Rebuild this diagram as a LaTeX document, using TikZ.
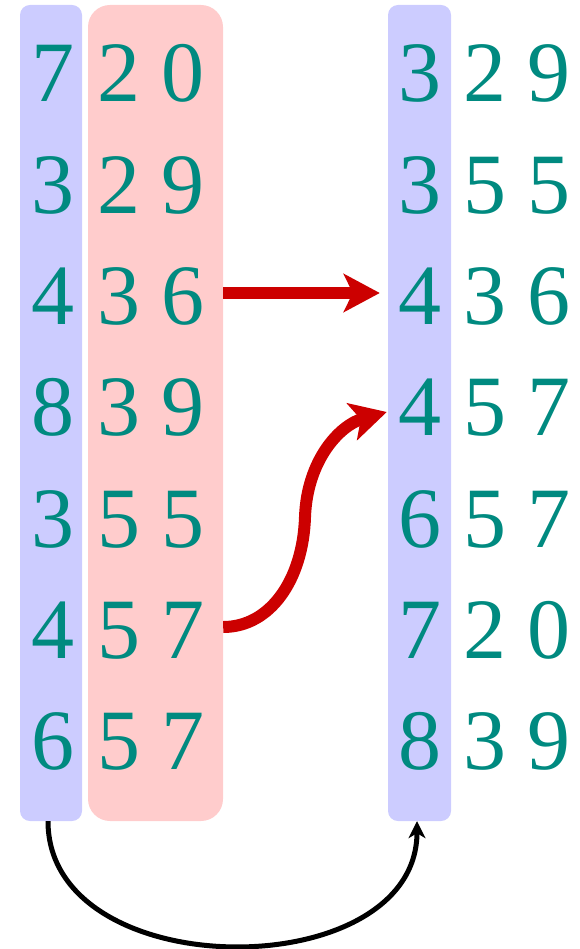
\documentclass[tikz,border=0pt]{standalone}
\usepackage{fontspec}
\newfontfamily\digitfont{Liberation Serif}
\usetikzlibrary{arrows.meta}
\definecolor{digitteal}{RGB}{0,138,128}
\definecolor{colblue}{RGB}{204,204,255}
\definecolor{colpink}{RGB}{255,204,204}
\definecolor{arrred}{RGB}{204,0,0}
\begin{document}
\begin{tikzpicture}[x=1pt,y=-1pt,
  digit/.style={anchor=base,inner sep=0pt,text=digitteal,font=\digitfont\fontsize{86}{86}\selectfont},
  bluecol/.style={fill=colblue,draw=none,rounded corners=10pt,inner sep=0pt,minimum width=62pt,minimum height=816pt},
  pinkcol/.style={fill=colpink,draw=none,rounded corners=22pt,inner sep=0pt,minimum width=135pt,minimum height=816pt},
  redarrow/.style={draw=arrred,line width=12pt,-{Stealth[length=36pt,width=38pt,inset=9pt]}},
  blackarrow/.style={draw=black,line width=5pt,-{Stealth[length=17pt,width=17pt,inset=5pt]}}]
\useasboundingbox (0,0) rectangle (580,949);
\node[bluecol] (lcol) at (51,413) {};
\node[pinkcol] (pink) at (155.5,413) {};
\node[bluecol,minimum width=63pt] (rcol) at (419.5,413) {};
% left digits
\foreach \r/\a/\b/\c in {0/7/2/0,1/3/2/9,2/4/3/6,3/8/3/9,4/3/5/5,5/4/5/7,6/6/5/7}{
  \node[digit] (la\r) at (53,102+111.3*\r) {\a};
  \node[digit] (lb\r) at (119,102+111.3*\r) {\b};
  \node[digit] (lc\r) at (183,102+111.3*\r) {\c};
}
% right digits
\foreach \r/\a/\b/\c in {0/3/2/9,1/3/5/5,2/4/3/6,3/4/5/7,4/6/5/7,5/7/2/0,6/8/3/9}{
  \node[digit] (ra\r) at (420,102+111.3*\r) {\a};
  \node[digit] (rb\r) at (485,102+111.3*\r) {\b};
  \node[digit] (rc\r) at (549,102+111.3*\r) {\c};
}
\coordinate (y1) at (0,293);
\coordinate (y2) at (0,627);
\coordinate (y3) at (0,412);
\coordinate (mid) at (305,517);
\draw[redarrow,shorten >=8pt] (pink.east |- y1) -- (rcol.west |- y1);
\draw[redarrow] (pink.east |- y2) .. controls (270,627) and (303,580) .. (mid)
  .. controls (307,460) and (340,425) .. ([xshift=-1pt]rcol.west |- y3);
\draw[blackarrow] ([xshift=-3pt]lcol.south) .. controls (48,987) and (417,987) .. ([xshift=-2.5pt]rcol.south);
\end{tikzpicture}
\end{document}
